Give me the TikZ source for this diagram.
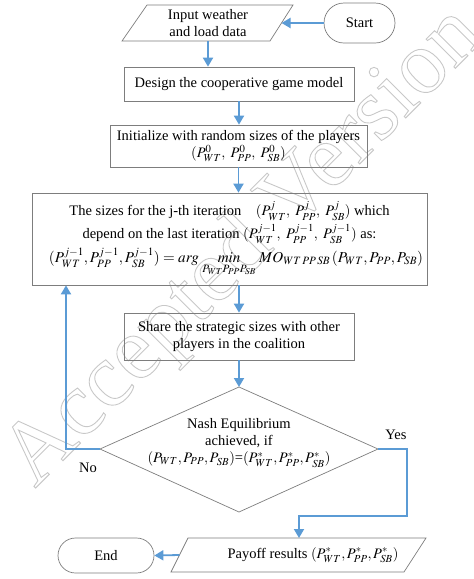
\documentclass[tikz,border=0pt]{standalone}
\usepackage{graphicx}
\usepackage{mathptmx}
\usepackage{fontspec}
\setmainfont{Liberation Serif}
\usetikzlibrary{arrows.meta,shapes.misc}
\definecolor{arrblue}{RGB}{91,155,213}
\definecolor{boxgray}{RGB}{125,125,125}
\definecolor{wmgray}{RGB}{200,200,200}
\begin{document}
\begin{tikzpicture}[x=1pt,y=-1pt, font=\fontsize{14.5}{17}\selectfont,
  box/.style={draw=boxgray,line width=0.7pt,inner sep=0pt,align=center},
  plain/.style={inner sep=0pt,align=center},
  arr/.style={draw=arrblue,line width=1.8pt,-{Triangle[length=9pt,width=10pt]}},
  term/.style={draw=boxgray,line width=0.7pt,rounded rectangle,inner sep=0pt},
  shapeline/.style={draw=boxgray,line width=0.7pt}]
\useasboundingbox (0,0) rectangle (474,579);
% watermark
\node[rotate=45, text=wmgray, inner sep=0pt, font=\fontsize{90}{90}\selectfont] (wm) at (245,248) {\special{pdf:literal direct 1 Tr 0.9 w}Accepted Version\special{pdf:literal direct 0 Tr}};
% input
\coordinate (i1) at (147,5);
\coordinate (i2) at (293,5);
\coordinate (i3) at (270,41);
\coordinate (i4) at (122,41);
\draw[shapeline] (i1)--(i2)--(i3)--(i4)--cycle;
\node[plain] (in) at (208,23) {Input weather\\and load data};
\coordinate (inR) at (281.5,23);
\coordinate (inB) at (208,41);
% start
\node[term, minimum width=71, minimum height=40] (start) at (359.5,23) {Start};
\draw[arr] (start.west) -- (inR);
% design
\node[box, minimum width=230, minimum height=34] (design) at (239,84) {Design the cooperative game model};
\draw[arr] (inB) -- (inB |- design.north);
% init
\node[box, minimum width=257, minimum height=42] (init) at (238.5,146) {Initialize with random sizes of the players\\$(P^0_{WT},\ P^0_{PP},\ P^0_{SB})$};
\draw[arr] (design.south) -- (design.south |- init.north);
% big
\node[box, minimum width=395, minimum height=92] (big) at (229.5,239) {The sizes for the j-th iteration\quad $(P^j_{WT},\ P^j_{PP},\ P^j_{SB})$ which\\[3pt]
depend on the last iteration $(P^{j-1}_{WT},\ P^{j-1}_{PP},\ P^{j-1}_{SB})$ as:\\[3pt]
\kern13pt\resizebox{374pt}{!}{$(P^{j-1}_{WT},P^{j-1}_{PP},P^{j-1}_{SB})=arg\,\mathop{min}\limits_{P_{WT}P_{PP}P_{SB}}\,MO_{WT\,PP\,SB}\,(P_{WT},P_{PP},P_{SB})$}};
\draw[arr] (init.south) -- (init.south |- big.north);
% share
\node[box, minimum width=230, minimum height=47] (share) at (239,336.5) {Share the strategic sizes with other\\players in the coalition};
\draw[arr] (share.north |- big.south) -- (share.north);
% diamond
\coordinate (dT) at (239,387);
\coordinate (dR) at (378,449);
\coordinate (dB) at (239,512);
\coordinate (dL) at (100,449);
\draw[shapeline] (dT)--(dR)--(dB)--(dL)--cycle;
\node[plain] (dtext) at (239,443) {Nash Equilibrium\\achieved, if\\$(P_{WT},P_{PP},P_{SB})$=$(P^*_{WT},P^*_{PP},P^*_{SB})$};
\draw[arr] (share.south) -- (dT);
% no loop
\coordinate (noC) at (66,449);
\draw[arr] (dL) -- (noC) -- (noC |- big.south);
\node[plain] (no) at (88,468) {No};
% payoff
\coordinate (p1) at (188,538);
\coordinate (p2) at (426,538);
\coordinate (p3) at (404,572);
\coordinate (p4) at (171,572);
\draw[shapeline] (p1)--(p2)--(p3)--(p4)--cycle;
\node[plain] (pay) at (313,555) {Payoff results $(P^*_{WT},P^*_{PP},P^*_{SB})$};
\coordinate (pTop) at (299,538);
\coordinate (pL) at (179.5,555);
% yes path
\coordinate (y1) at (407,449);
\coordinate (y2) at (407,516);
\coordinate (y3) at (299,516);
\draw[arr] (dR) -- (y1) -- (y2) -- (y3) -- (pTop);
\node[plain] (yes) at (396,435) {Yes};
% end
\node[term, minimum width=96, minimum height=35] (end) at (106,555.5) {End};
\draw[arr] (pL) -- (end.east);
\end{tikzpicture}
\end{document}
